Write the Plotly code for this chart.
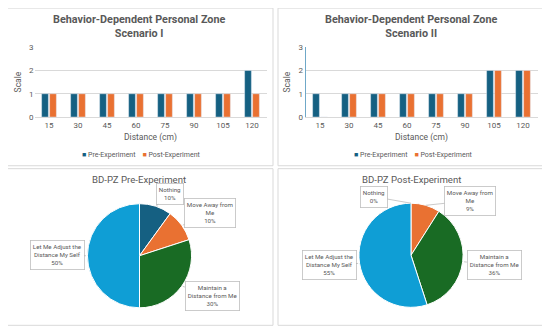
import math
import plotly.graph_objects as go

# ---------------- data ----------------
distances = ["15", "30", "45", "60", "75", "90", "105", "120"]
scen1_pre = [1, 1, 1, 1, 1, 1, 1, 2]
scen1_post = [1, 1, 1, 1, 1, 1, 1, 1]
scen2_pre = [1, 1, 1, 1, 1, 1, 2, 2]
scen2_post = [0, 1, 1, 1, 1, 1, 2, 2]

pie_labels = ["Nothing", "Move Away from Me", "Maintain a Distance from Me",
              "Let Me Adjust the Distance My Self"]
pie_label_text = ["Nothing", "Move Away from<br>Me", "Maintain a<br>Distance from Me",
                  "Let Me Adjust the<br>Distance My Self"]
pre_pct = [10, 10, 30, 50]
post_pct = [0, 9, 36, 55]

y_ticks = [0, 1, 2, 3]

PRE_C = "#156082"
POST_C = "#E97132"
pie_colors = ["#156082", "#E97132", "#196B24", "#0F9ED5"]

W, H = 550, 334
OFF = 8  # page body margin
FONT = "Roboto"
GRAY = "#595959"


def px(x):
    return (x - OFF) / W


def py(y):
    return 1 - (y - OFF) / H


fig = go.Figure()

# ---------------- bar charts ----------------
fig.add_trace(go.Bar(x=distances, y=scen1_pre, name="Pre-Experiment", marker_color=PRE_C,
                     xaxis="x", yaxis="y", showlegend=False))
fig.add_trace(go.Bar(x=distances, y=scen1_post, name="Post-Experiment", marker_color=POST_C,
                     xaxis="x", yaxis="y", showlegend=False))
fig.add_trace(go.Bar(x=distances, y=scen2_pre, name="Pre-Experiment", marker_color=PRE_C,
                     xaxis="x2", yaxis="y2", showlegend=False))
fig.add_trace(go.Bar(x=distances, y=scen2_post, name="Post-Experiment", marker_color=POST_C,
                     xaxis="x2", yaxis="y2", showlegend=False))

# ---------------- pies ----------------
pie_geo = [(139.5, 258.5, 53.5), (411, 258, 53.5)]
for vals, (cx, cy, r) in zip([pre_pct, post_pct], pie_geo):
    fig.add_trace(go.Pie(
        labels=pie_labels, values=vals, sort=False, direction="clockwise", rotation=0,
        marker=dict(colors=pie_colors, line=dict(color="white", width=1)),
        textinfo="none", showlegend=False, hoverinfo="label+percent",
        domain=dict(x=[px(cx - r), px(cx + r)], y=[py(cy + r), py(cy - r)]),
    ))

axis_common = dict(tickfont=dict(family=FONT, size=8, color=GRAY), showgrid=False,
                   zeroline=False, ticks="")
yaxis_common = dict(range=[0, 3], tickvals=y_ticks, showgrid=True, gridcolor="#d9d9d9",
                    gridwidth=1, zeroline=False, ticks="",
                    tickfont=dict(family=FONT, size=8, color=GRAY),
                    title=dict(text="Scale", font=dict(family=FONT, size=8.5, color=GRAY),
                               standoff=6))

fig.update_layout(
    width=W, height=H, margin=dict(l=0, r=0, t=0, b=0),
    paper_bgcolor="white", plot_bgcolor="white",
    barmode="group", bargap=0.45, bargroupgap=0.15,
    xaxis=dict(domain=[px(34.5), px(266.5)], anchor="y",
               showline=True, linecolor="#d9d9d9",
               title=dict(text="Distance (cm)", font=dict(family=FONT, size=8.5, color=GRAY),
                          standoff=5), **axis_common),
    yaxis=dict(domain=[py(116), py(44)], anchor="x", **yaxis_common),
    xaxis2=dict(domain=[px(305.5), px(537.5)], anchor="y2",
                showline=True, linecolor="#d9d9d9",
                title=dict(text="Distance (cm)", font=dict(family=FONT, size=8.5, color=GRAY),
                           standoff=5), **axis_common),
    yaxis2=dict(domain=[py(116), py(44)], anchor="x2", showline=True, linecolor="#6fa8c8",
                linewidth=1, **yaxis_common),
)

# panel borders
for (x0, y0, x1, y1) in [(5, 4, 273, 166), (278, 4, 545, 166), (5, 169, 273, 330),
                         (278, 169, 545, 330)]:
    fig.add_shape(type="rect", xref="paper", yref="paper",
                  x0=px(x0), x1=px(x1), y0=py(y1), y1=py(y0),
                  line=dict(color="#d9d9d9", width=1), layer="below")

# titles
for cx, sub in [(139, "Scenario I"), (410.5, "Scenario II")]:
    fig.add_annotation(x=px(cx), y=py(23), xref="paper", yref="paper", showarrow=False,
                       xanchor="center", yanchor="middle",
                       text="<b>Behavior-Dependent Personal Zone<br>" + sub + "</b>",
                       font=dict(family=FONT, size=10.8, color=GRAY), align="center")
for cx, t in [(139, "BD-PZ Pre-Experiment"), (411, "BD-PZ Post-Experiment")]:
    fig.add_annotation(x=px(cx), y=py(180), xref="paper", yref="paper", showarrow=False,
                       xanchor="center", yanchor="middle",
                       text=t, font=dict(family=FONT, size=9.6, color=GRAY))

# legends
for cx in [141, 413]:
    fig.add_annotation(
        x=px(cx), y=py(155), xref="paper", yref="paper", showarrow=False,
        xanchor="center", yanchor="middle",
        text=("<span style='color:%s'>■</span> Pre-Experiment    "
              "<span style='color:%s'>■</span> Post-Experiment") % (PRE_C, POST_C),
        font=dict(family=FONT, size=7, color=GRAY))

# pie labels (callout boxes)
box_pos = [
    [(170, 195), (210, 215), (212, 300), (57, 258)],
    [(374, 198), (470, 202), (494, 268), (329, 268)],
]
for vals, (cx, cy, r), boxes in zip([pre_pct, post_pct], pie_geo, box_pos):
    total = sum(vals)
    cum = 0
    for v, lab, (bx, by) in zip(vals, pie_label_text, boxes):
        mid = (cum + v / 2) / total * 2 * math.pi
        cum += v
        tx = cx + r * math.sin(mid)
        ty = cy - r * math.cos(mid)
        fig.add_annotation(
            x=px(tx), y=py(ty), xref="paper", yref="paper",
            ax=bx - tx, ay=by - ty, showarrow=True, arrowhead=0, arrowwidth=0.6,
            arrowcolor="#a6a6a6",
            text="%s<br>%d%%" % (lab, v), align="center",
            font=dict(family=FONT, size=6.2, color=GRAY),
            bordercolor="#bfbfbf", borderwidth=0.8, borderpad=2, bgcolor="white")

fig.write_html("out.html")
